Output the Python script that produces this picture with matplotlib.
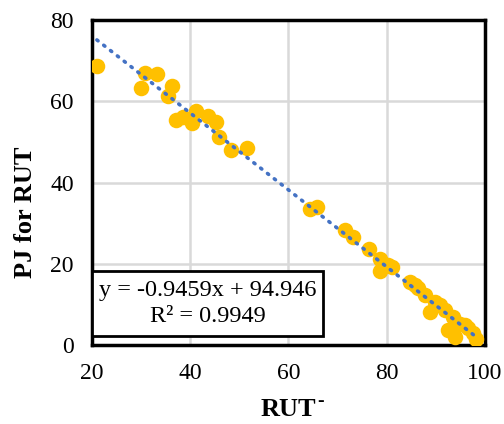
import matplotlib
matplotlib.use("Agg")
import matplotlib.pyplot as plt
from matplotlib.patches import Rectangle
import numpy as np

plt.rcParams['font.family'] = ['Liberation Serif', 'DejaVu Serif']

rut_minus = [21.0, 30.8, 33.2, 30.0, 36.3, 35.5, 37.2, 38.5, 40.3, 41.2, 43.7, 45.2, 45.9,
             48.3, 51.5, 64.4, 65.9, 71.6, 73.2, 76.4, 78.6, 80.3, 78.6, 81.0, 84.7, 85.7,
             86.4, 87.8, 88.8, 89.8, 90.8, 91.9, 92.5, 93.5, 93.9, 94.9, 95.9, 96.6, 97.6, 98.3]
pj_rut = [68.7, 67.0, 66.6, 63.3, 63.8, 61.4, 55.4, 56.2, 54.6, 57.6, 56.4, 54.8, 51.3,
          48.0, 48.4, 33.6, 34.0, 28.3, 26.7, 23.6, 21.3, 19.7, 18.2, 19.3, 15.6, 14.8,
          14.0, 12.3, 8.2, 10.7, 9.8, 8.6, 3.7, 7.0, 2.0, 5.3, 4.9, 4.1, 2.9, 1.6]
slope = -0.9459
intercept = 94.946
r2 = 0.9949
x_ticks = [20, 40, 60, 80, 100]
y_ticks = [0, 20, 40, 60, 80]

fig = plt.figure(figsize=(5.04, 4.24), dpi=100)
ax = fig.add_axes([0.1825, 0.186, 0.7795, 0.767])

ax.scatter(rut_minus, pj_rut, s=125, color='#FFC000', zorder=3, linewidths=0)
xt = np.array([min(rut_minus), max(rut_minus)])
ax.plot(xt, slope * xt + intercept, color='#4472C4', lw=2.6, linestyle=(0, (0.4, 2.0)),
        dash_capstyle='round', zorder=4)

ax.set_xlim(20, 100)
ax.set_ylim(0, 80)
ax.set_xticks(x_ticks)
ax.set_yticks(y_ticks)
ax.grid(True, color='#D9D9D9', lw=1.8)
ax.set_axisbelow(True)
ax.tick_params(length=0, labelsize=17, pad=13)
for sp in ax.spines.values():
    sp.set_linewidth(2.5)
    sp.set_color('black')

xl = ax.set_xlabel('RUT', fontsize=19, fontweight='bold', labelpad=10)
ax.set_ylabel('PJ for RUT', fontsize=19, fontweight='bold')
ax.yaxis.set_label_coords(-0.14, 0.41)

# superscript hyphen after the x label
fig.canvas.draw()
bb = xl.get_window_extent()
fig.text((bb.x1 + 1) / fig.bbox.width, (bb.y0 + 15.5) / fig.bbox.height, '-',
         fontsize=14, fontweight='bold', ha='left', va='baseline')

ax.add_patch(Rectangle((0.0, 0.028), 0.588, 0.2, transform=ax.transAxes,
                       fc='white', ec='black', lw=2, zorder=5))
ax.text(0.294, 0.128, f'y = {slope}x + {intercept}\nR² = {r2}', transform=ax.transAxes,
        ha='center', va='center', fontsize=17.5, linespacing=1.3, zorder=6)

fig.savefig('out.png', dpi=100)
